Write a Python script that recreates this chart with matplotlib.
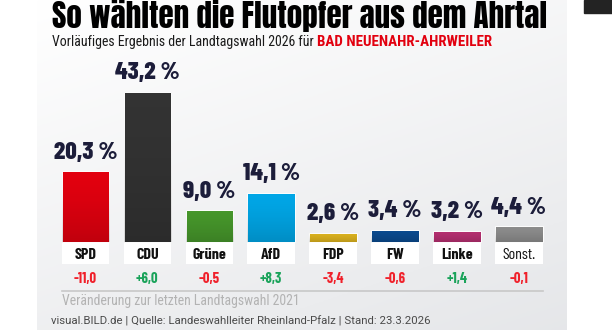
import matplotlib
matplotlib.use('Agg')
import matplotlib.pyplot as plt
import numpy as np
from matplotlib.patches import Rectangle

# Daten
parteien = ['SPD', 'CDU', 'Grüne', 'AfD', 'FDP', 'FW', 'Linke', 'Sonst.']
ergebnis = [20.3, 43.2, 9.0, 14.1, 2.6, 3.4, 3.2, 4.4]
veraenderung = [-11.0, 6.0, -0.5, 8.3, -3.4, -0.6, 1.4, -0.1]
farben = ['#e2000f', '#333333', '#46962b', '#00a6e6', '#dcb21e', '#0b4a8e', '#b52f70', '#8c8c8c']

titel = 'So wählten die Flutopfer aus dem Ahrtal'
untertitel_1 = 'Vorläufiges Ergebnis der Landtagswahl 2026 für '
untertitel_2 = 'BAD NEUENAHR-AHRWEILER'
hinweis = 'Veränderung zur letzten Landtagswahl 2021'
quelle = 'visual.BILD.de | Quelle: Landeswahlleiter Rheinland-Pfalz | Stand: 23.3.2026'

W, H = 612, 336
TITEL_FONT = ['Anton', 'DejaVu Sans']
ZAHL_FONT = ['Barlow Condensed', 'Fira Sans Extra Condensed', 'DejaVu Sans']
TEXT_FONT = ['Roboto Condensed', 'DejaVu Sans']

fig = plt.figure(figsize=(W / 100, H / 100), dpi=100)
fig.patch.set_facecolor('white')

# Hintergrund-Ebene in Pixelkoordinaten
bg = fig.add_axes([0, 0, 1, 1])
bg.axis('off')

gx, gy = np.meshgrid(np.linspace(0, 1, 200), np.linspace(0, 1, 120))
grad = np.clip(0.35 * gx + 0.65 * gy, 0, 1)
col_a = np.array([1.0, 1.0, 1.0])
col_b = np.array([0.90, 0.905, 0.915])
img = col_a[None, None, :] * (1 - grad[..., None]) + col_b[None, None, :] * grad[..., None]
bg.imshow(img, extent=(36.7, 566.7, 330, 0), aspect='auto', zorder=0)
bg.add_patch(Rectangle((584, 0), 28, 12.7, color='#232323', zorder=1))
bg.set_xlim(0, W)
bg.set_ylim(H, 0)

renderer = fig.canvas.get_renderer()


def fit_text(ax, x, y, s, width, **kw):
    t = ax.text(x, y, s, **kw)
    size = kw.get('fontsize', 10)
    for _ in range(3):
        bb = t.get_window_extent(renderer=renderer)
        size = size * width / bb.width
        t.set_fontsize(size)
    return t


fit_text(bg, 52, 28.5, titel, 496, fontsize=24, family=TITEL_FONT,
         color='black', va='baseline', ha='left')
t1 = fit_text(bg, 52, 46, untertitel_1, 265, fontsize=9, family=TEXT_FONT,
              color='#1a1a1a', va='baseline', ha='left')
bb = t1.get_window_extent(renderer=renderer)
fit_text(bg, bb.x1, 46, untertitel_2, 175, fontsize=t1.get_fontsize(),
         fontweight='bold', family=TEXT_FONT, color='#e2000f', va='baseline', ha='left')

# Balken-Achse
step = 61.9
left_px = 85.5 - step / 2
ax = fig.add_axes([left_px / W, (H - 328.5) / H, 8 * step / W, 260.3 / H])
ax.axis('off')

x = np.arange(len(parteien))
bw = 0.767
bars = ax.bar(x, ergebnis, width=bw, color=farben, edgecolor='#ffffff', linewidth=0.7, zorder=2)

# leichter Farbverlauf am Balkenfuss
shade = np.zeros((50, 1, 4))
shade[..., 3] = np.linspace(0.0, 0.28, 50)[:, None] ** 1.5
for b, v in zip(bars, ergebnis):
    im = ax.imshow(shade, extent=(b.get_x(), b.get_x() + bw, 0, v), aspect='auto',
                   origin='upper', zorder=3)
    im.set_clip_path(b)
ax.set_xlim(-0.5, 7.5)
ax.set_ylim(-25.0, 50.0)

for i, (p, v, d) in enumerate(zip(parteien, ergebnis, veraenderung)):
    ax.text(i, v + 3.6, f'{v:.1f} %'.replace('.', ','), ha='center', va='baseline',
            fontsize=18, fontweight=800, family=ZAHL_FONT, color='#1c1d3a')
    ax.add_patch(Rectangle((i - bw / 2, -6.5), bw, 6.05, facecolor='white',
                           edgecolor='none', zorder=2))
    ax.text(i, -5.0, p, ha='center', va='baseline', fontsize=11.5,
            fontweight='normal' if p == 'Sonst.' else 'bold', family=ZAHL_FONT,
            color='#111111')
    txt = f'{d:+.1f}'.replace('.', ',')
    ax.text(i, -11.8, txt, ha='center', va='baseline', fontsize=10.5, fontweight='bold',
            family=ZAHL_FONT, color='#1aa35a' if d > 0 else '#f0202a')

ax.plot([-bw / 2, 7 + bw / 2], [-14.2, -14.2], color='#c8c8c8', lw=1.2, clip_on=False)

fit_text(bg, 62, 305.5, hinweis, 237, fontsize=10.5, family=TEXT_FONT,
         color='#b3b3b3', va='baseline', ha='left')
fit_text(bg, 50.7, 324.5, quelle, 380, fontsize=7.5, family=['Roboto', 'DejaVu Sans'],
         color='#4a4a4a', va='baseline', ha='left')

fig.savefig('out.png', dpi=100)
